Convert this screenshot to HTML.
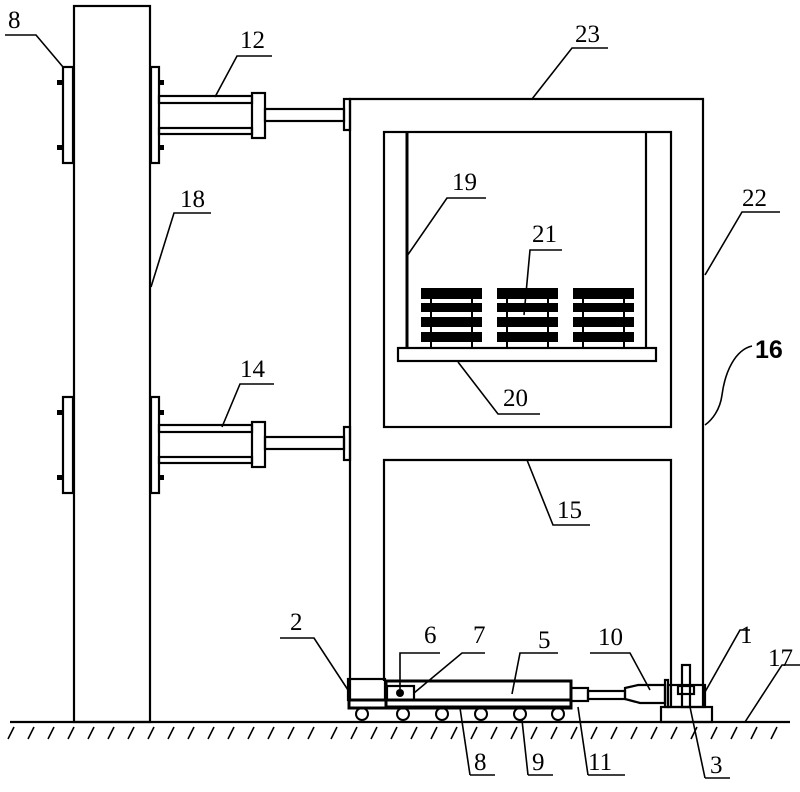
<!DOCTYPE html>
<html><head><style>body{margin:0;background:#fff}svg{display:block}text{font-family:"Liberation Serif",serif;font-size:25px;fill:#000}</style></head><body>
<svg width="800" height="792" viewBox="0 0 800 792" xmlns="http://www.w3.org/2000/svg">
<g fill="none" stroke="#000" stroke-width="2.2">
<rect x="74" y="6" width="76" height="716"/>
<rect x="63" y="67" width="10" height="96"/><rect x="151" y="67" width="8" height="96"/>
<rect x="63" y="397" width="10" height="96"/><rect x="151" y="397" width="8" height="96"/>
<rect x="159" y="96" width="93" height="7"/><rect x="159" y="128" width="93" height="6"/>
<rect x="252" y="93" width="13" height="45"/><rect x="265" y="109" width="79" height="12"/><rect x="344" y="99" width="6" height="31"/>
<rect x="159" y="425" width="93" height="7"/><rect x="159" y="457" width="93" height="6"/>
<rect x="252" y="422" width="13" height="45"/><rect x="265" y="437" width="79" height="12"/><rect x="344" y="427" width="6" height="33"/>
<path d="M350 699 V99 H703 V707"/>
<rect x="384" y="132" width="287" height="295"/>
<path d="M384 681 V460 H671 V707"/>
<line x1="407" y1="132" x2="407" y2="348" stroke-width="3"/><line x1="646" y1="132" x2="646" y2="348"/>
<rect x="398" y="348" width="258" height="13"/>
<rect x="348" y="679" width="37" height="21"/>
<rect x="349" y="700" width="222" height="8" stroke-width="3"/>
<rect x="386" y="681" width="185" height="26" stroke-width="3"/>
<rect x="387" y="686" width="27" height="14"/>
<rect x="571" y="688" width="17" height="13"/><rect x="588" y="691" width="37" height="8"/>
<path d="M625 688 L638 685 L665 685 L665 703 L640 703 L625 699 Z"/>
<rect x="665" y="680" width="3" height="27"/>
<rect x="661" y="707" width="51" height="15"/><rect x="668" y="685" width="37" height="22"/>
<rect x="682" y="665" width="8" height="42"/><rect x="678" y="686" width="16" height="8"/>
<line x1="10" y1="722" x2="790" y2="722"/>
</g>
<g fill="#000">
<circle cx="400" cy="693" r="4"/>
<rect x="57" y="80" width="6" height="5"/><rect x="57" y="145" width="6" height="5"/><rect x="159" y="80" width="5" height="5"/><rect x="159" y="145" width="5" height="5"/>
<rect x="57" y="410" width="6" height="5"/><rect x="57" y="475" width="6" height="5"/><rect x="159" y="410" width="5" height="5"/><rect x="159" y="475" width="5" height="5"/>
</g>
<g fill="#000">
<rect x="421" y="288" width="61" height="11"/><rect x="421" y="303" width="61" height="9"/><rect x="421" y="317" width="61" height="10"/><rect x="421" y="332" width="61" height="10"/>
<rect x="497" y="288" width="61" height="11"/><rect x="497" y="303" width="61" height="9"/><rect x="497" y="317" width="61" height="10"/><rect x="497" y="332" width="61" height="10"/>
<rect x="573" y="288" width="61" height="11"/><rect x="573" y="303" width="61" height="9"/><rect x="573" y="317" width="61" height="10"/><rect x="573" y="332" width="61" height="10"/>
</g>
<g stroke="#000" stroke-width="2">
<line x1="431" y1="298" x2="431" y2="348"/><line x1="472" y1="298" x2="472" y2="348"/>
<line x1="507" y1="298" x2="507" y2="348"/><line x1="548" y1="298" x2="548" y2="348"/>
<line x1="583" y1="298" x2="583" y2="348"/><line x1="624" y1="298" x2="624" y2="348"/>
</g>
<g fill="none" stroke="#000" stroke-width="2">
<circle cx="362" cy="714" r="6"/><circle cx="403" cy="714" r="6"/><circle cx="442" cy="714" r="6"/><circle cx="481" cy="714" r="6"/><circle cx="520" cy="714" r="6"/><circle cx="558" cy="714" r="6"/>
</g>
<g stroke="#000" stroke-width="1.6" fill="none">
<path d="M14 727 l-6 12 M34 727 l-6 12 M54 727 l-6 12 M74 727 l-6 12 M94 727 l-6 12 M114 727 l-6 12 M134 727 l-6 12 M154 727 l-6 12 M174 727 l-6 12 M194 727 l-6 12 M214 727 l-6 12 M234 727 l-6 12 M254 727 l-6 12 M274 727 l-6 12 M294 727 l-6 12 M314 727 l-6 12 M337 727 l-6 12 M357 727 l-6 12 M377 727 l-6 12 M397 727 l-6 12 M417 727 l-6 12 M437 727 l-6 12 M457 727 l-6 12 M477 727 l-6 12 M497 727 l-6 12 M517 727 l-6 12 M537 727 l-6 12 M557 727 l-6 12 M577 727 l-6 12 M597 727 l-6 12 M617 727 l-6 12 M637 727 l-6 12 M657 727 l-6 12 M677 727 l-6 12 M697 727 l-6 12 M717 727 l-6 12 M737 727 l-6 12 M757 727 l-6 12 M777 727 l-6 12"/>
<path d="M5 35 H36 L63 67"/>
<path d="M272 56 H237 L215 97"/>
<path d="M608 48 H572 L532 99"/>
<path d="M780 212 H742 L705 275"/>
<path d="M752 346 C735 350 725 372 722 395 C720 410 712 420 705 425"/>
<path d="M211 213 H174 L151 287"/>
<path d="M486 198 H447 L407 256"/>
<path d="M562 250 H530 L524 315"/>
<path d="M540 414 H498 L458 362"/>
<path d="M274 384 H240 L222 427"/>
<path d="M590 525 H553 L527 460"/>
<path d="M280 638 H314 L348 690"/>
<path d="M440 653 H400 L400 689"/>
<path d="M485 653 H462 L414 693"/>
<path d="M558 653 H520 L512 694"/>
<path d="M590 653 H630 L650 690"/>
<path d="M750 630 H740 L705 692"/>
<path d="M800 665 L782 665 L745 722"/>
<path d="M470 775 H495 M470 775 L460 708"/>
<path d="M528 775 H553 M528 775 L522 720"/>
<path d="M588 775 H625 M588 775 L578 707"/>
<path d="M705 778 H730 M705 778 L690 707"/>
</g>
<text x="8" y="28">8</text><text x="240" y="48">12</text><text x="575" y="42">23</text>
<text x="742" y="206">22</text><text x="755" y="358" style="font-family:'Liberation Sans',sans-serif;font-weight:bold">16</text>
<text x="180" y="207">18</text><text x="452" y="190">19</text><text x="532" y="242">21</text>
<text x="503" y="406">20</text><text x="240" y="377">14</text><text x="557" y="518">15</text>
<text x="290" y="630">2</text><text x="424" y="643">6</text><text x="473" y="643">7</text>
<text x="538" y="648">5</text><text x="598" y="645">10</text><text x="740" y="643">1</text><text x="768" y="666">17</text>
<text x="474" y="770">8</text><text x="532" y="770">9</text><text x="588" y="770">11</text><text x="710" y="773">3</text>
</svg>
</body></html>
